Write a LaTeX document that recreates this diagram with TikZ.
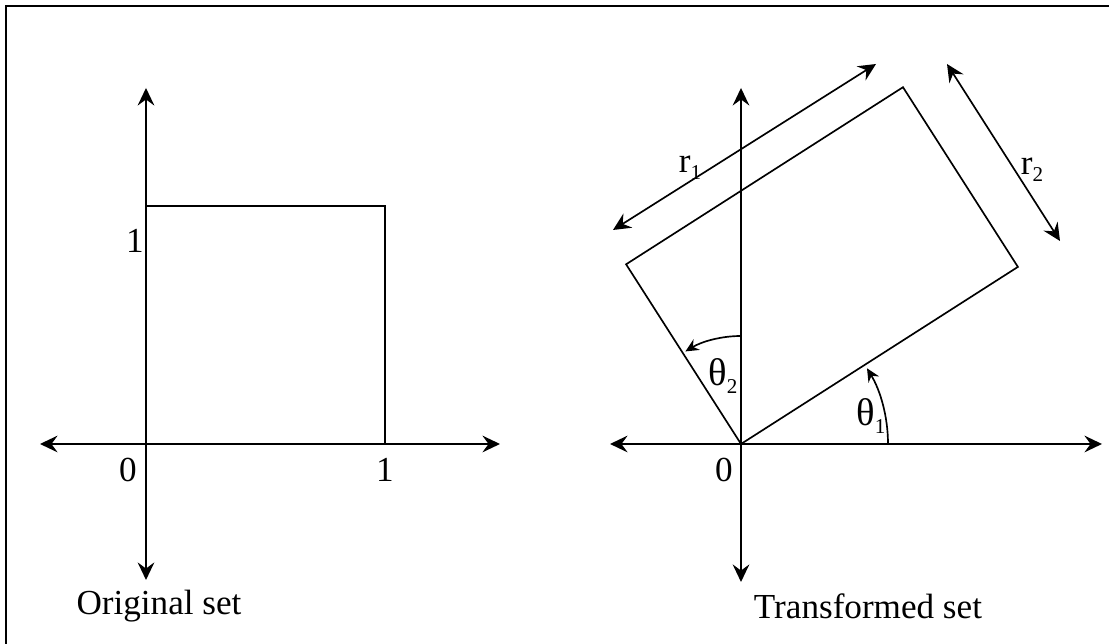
\documentclass[tikz,border=0pt]{standalone}
\usepackage{fontspec}
\setmainfont{Liberation Serif}
\usetikzlibrary{arrows.meta,calc}

\newcommand{\lowsub}[1]{\raisebox{-0.45ex}{\fontsize{12}{13}\selectfont #1}}

\begin{document}
\begin{tikzpicture}[
  x=0.02cm, y=0.02cm,
  line width=0.95pt,
  >={Stealth[length=10pt,width=9.5pt,inset=3.5pt]},
  axis/.style={<->},
  dim/.style={<->},
  angarrow/.style={->, >={Stealth[length=7.5pt,width=7pt,inset=2.5pt]}},
  lbl/.style={font=\fontsize{20}{24}\selectfont, inner sep=0pt},
  sym/.style={font=\fontsize{22}{26}\selectfont, inner sep=0pt},
  rlbl/.style={font=\fontsize{20}{24}\selectfont, inner sep=0pt}
]

\useasboundingbox (0,0) rectangle (1109,644);

% scan frame (top and left edges only)
\draw[line width=1.5pt] (6,-20) -- (6,638) -- (1130,638);

% Original set
\coordinate (o1) at (146,200);
\coordinate (xl1) at (40,200);
\coordinate (xr1) at (500,200);
\coordinate (yt1) at (146,556);
\coordinate (yb1) at (146,64);
\draw[axis] (xl1) -- (xr1);
\draw[axis] (yb1) -- (yt1);
\coordinate (sq) at (385,438);
\draw (o1) rectangle (sq);

\node[lbl] (one1y) at (135,403) {1};
\node[lbl] (zero1) at (128,174) {0};
\node[lbl] (one1x) at (385,174) {1};
\node[lbl] (cap1) at (159,38) {Original set};

% Transformed set
\coordinate (o2) at (741,200);
\coordinate (xl2) at (610,200);
\coordinate (xr2) at (1102,200);
\coordinate (yt2) at (741,556);
\coordinate (yb2) at (741,62);
\draw[axis] (xl2) -- (xr2);
\draw[axis] (yb2) -- (yt2);

\coordinate (ra) at ($(o2)+(32.6:328.7)$);
\coordinate (rc) at ($(o2)+(122.6:213.3)$);
\coordinate (rb) at ($(ra)+(122.6:213.3)$);
\draw (o2) -- (ra) -- (rb) -- (rc) -- cycle;

% side lengths
\coordinate (r1a) at (613,414);
\coordinate (r1b) at (876,580);
\draw[dim] (r1a) -- (r1b);
\node[rlbl] (r1) at (690,476) {r\lowsub{1}};

\coordinate (r2a) at (947,580);
\coordinate (r2b) at (1060,403);
\draw[dim] (r2a) -- (r2b);
\node[rlbl] (r2) at (1032,474) {r\lowsub{2}};

% angles
\draw[angarrow] ($(o2)+(147,0)$) arc[start angle=0, end angle=31, radius=147];
\draw[angarrow] ($(o2)+(0,108)$) arc[start angle=90, end angle=121, radius=108];
\node[sym] (th1) at (871,228) {θ\lowsub{1}};
\node[sym] (th2) at (723,268) {θ\lowsub{2}};

\node[lbl] (zero2) at (724,174) {0};
\node[lbl] (cap2) at (868,38) {Transformed set};

\end{tikzpicture}
\end{document}
